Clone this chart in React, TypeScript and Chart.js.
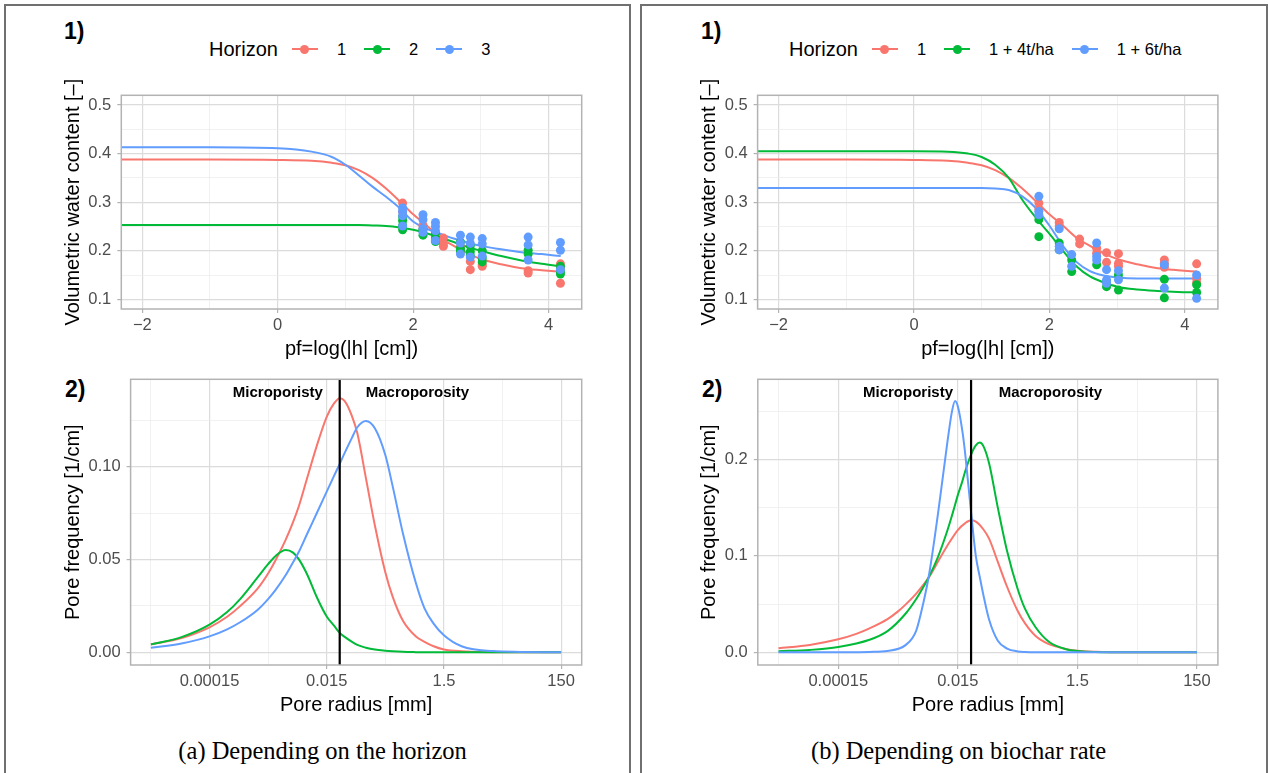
import React, { useEffect, useRef } from 'react';
import { Chart, registerables } from 'chart.js';

Chart.register(...registerables);

const SANS = "'Liberation Sans', Arial, Helvetica, sans-serif";
const SERIF = "'Liberation Serif', 'Times New Roman', serif";
const SERIES_COLORS = ['#F8766D', '#00BA38', '#619CFF'];

// ---------- legend / text ----------
const LEGEND_TITLE = 'Horizon';
const HORIZON_LABELS = ['1', '2', '3'];
const BIOCHAR_LABELS = ['1', '1 + 4t/ha', '1 + 6t/ha'];
const CAPTION_A = '(a) Depending on the horizon';
const CAPTION_B = '(b) Depending on biochar rate';
const RETENTION_X_TITLE = 'pf=log(|h| [cm])';
const RETENTION_Y_TITLE = 'Volumetric water content [–]';
const PSD_X_TITLE = 'Pore radius [mm]';
const PSD_Y_TITLE = 'Pore frequency [1/cm]';
const MICRO_LABEL = 'Microporisty';
const MACRO_LABEL = 'Macroporosity';

// ---------- axes ----------
const TOP_X_RANGE = [-2.31, 4.49];
const TOP_X_MAJOR = [-2, 0, 2, 4];
const TOP_X_MINOR = [-1, 1, 3];
const TOP_X_LABELS = ['\u22122', '0', '2', '4'];
const TOP_Y_RANGE = [0.08, 0.52];
const TOP_Y_MAJOR = [0.1, 0.2, 0.3, 0.4, 0.5];
const TOP_Y_MINOR = [0.15, 0.25, 0.35, 0.45];
const TOP_Y_LABELS = ['0.1', '0.2', '0.3', '0.4', '0.5'];

const PSD_X_RANGE = [Math.pow(10, -5.17), Math.pow(10, 2.527)];
const PSD_X_MAJOR = [0.00015, 0.015, 1.5, 150];
const PSD_X_MINOR = [0.000015, 0.0015, 0.15, 15];
const PSD_X_LABELS = ['0.00015', '0.015', '1.5', '150'];
const PSD_A_Y_RANGE = [-0.0068, 0.147];
const PSD_A_Y_MAJOR = [0, 0.05, 0.1];
const PSD_A_Y_MINOR = [0.025, 0.075, 0.125];
const PSD_A_Y_LABELS = ['0.00', '0.05', '0.10'];
const PSD_B_Y_RANGE = [-0.0131, 0.283];
const PSD_B_Y_MAJOR = [0, 0.1, 0.2];
const PSD_B_Y_MINOR = [0.05, 0.15, 0.25];
const PSD_B_Y_LABELS = ['0.0', '0.1', '0.2'];

const PORE_BOUNDARY = 0.025;
const MICRO_LABEL_X = 0.0022;
const MACRO_LABEL_X = 0.53;

// ---------- retention curves (pF vs theta) ----------
const CURVE_PF = [-2.31, -1, 0, 0.5, 0.8, 1.0, 1.2, 1.4, 1.6, 1.8, 2.0, 2.2, 2.4, 2.6, 2.8, 3.0, 3.3, 3.6, 3.9, 4.18];
const CURVE_H1 = [0.388, 0.388, 0.387, 0.385, 0.381, 0.376, 0.366, 0.350, 0.328, 0.302, 0.275, 0.252, 0.227, 0.210, 0.195, 0.183, 0.172, 0.164, 0.160, 0.157];
const CURVE_H2 = [0.253, 0.253, 0.253, 0.253, 0.253, 0.253, 0.253, 0.252, 0.251, 0.248, 0.243, 0.236, 0.227, 0.218, 0.208, 0.200, 0.189, 0.180, 0.173, 0.168];
const CURVE_H3 = [0.413, 0.413, 0.411, 0.404, 0.393, 0.377, 0.355, 0.332, 0.311, 0.288, 0.260, 0.245, 0.235, 0.225, 0.217, 0.210, 0.203, 0.197, 0.193, 0.189];
const CURVE_B4 = [0.405, 0.405, 0.405, 0.404, 0.400, 0.393, 0.377, 0.350, 0.305, 0.268, 0.235, 0.200, 0.168, 0.147, 0.135, 0.126, 0.120, 0.117, 0.115, 0.114];
const CURVE_B6 = [0.329, 0.329, 0.329, 0.329, 0.329, 0.329, 0.328, 0.325, 0.312, 0.288, 0.252, 0.210, 0.177, 0.158, 0.149, 0.145, 0.143, 0.143, 0.143, 0.143];

// ---------- measured points, panel (a) ----------
const A_H1_PF = [1.845, 1.845, 2.146, 2.146, 2.447, 2.447, 2.447, 2.699, 2.699, 2.845, 2.845, 3.021, 3.021, 3.699, 3.699, 4.176, 4.176, 4.176];
const A_H1_TH = [0.298, 0.280, 0.252, 0.245, 0.226, 0.214, 0.209, 0.208, 0.198, 0.178, 0.161, 0.171, 0.168, 0.159, 0.154, 0.173, 0.163, 0.133];
const A_H2_PF = [1.845, 1.845, 1.845, 1.845, 2.146, 2.146, 2.33, 2.33, 2.33, 2.699, 2.699, 2.699, 2.845, 2.845, 2.845, 3.021, 3.021, 3.021, 3.699, 3.699, 4.176, 4.176, 4.176];
const A_H2_TH = [0.270, 0.262, 0.252, 0.243, 0.244, 0.232, 0.236, 0.228, 0.219, 0.218, 0.205, 0.200, 0.210, 0.198, 0.190, 0.200, 0.185, 0.177, 0.201, 0.193, 0.168, 0.157, 0.152];
const A_H3_PF = [1.845, 1.845, 1.845, 1.845, 2.146, 2.146, 2.146, 2.146, 2.33, 2.33, 2.33, 2.33, 2.699, 2.699, 2.699, 2.845, 2.845, 2.845, 3.021, 3.021, 3.021, 3.699, 3.699, 3.699, 4.176, 4.176, 4.176];
const A_H3_TH = [0.288, 0.281, 0.272, 0.251, 0.274, 0.264, 0.246, 0.238, 0.258, 0.250, 0.241, 0.221, 0.232, 0.216, 0.193, 0.228, 0.215, 0.187, 0.225, 0.214, 0.189, 0.228, 0.212, 0.181, 0.217, 0.201, 0.161];

// ---------- measured points, panel (b) ----------
const B_H1_PF = [1.845, 1.845, 2.146, 2.146, 2.447, 2.447, 2.699, 2.699, 2.845, 2.845, 3.021, 3.021, 3.021, 3.699, 3.699, 3.699, 4.176, 4.176, 4.176];
const B_H1_TH = [0.298, 0.285, 0.258, 0.251, 0.224, 0.214, 0.205, 0.195, 0.196, 0.176, 0.194, 0.174, 0.168, 0.181, 0.174, 0.166, 0.173, 0.143, 0.134];
const B_B4_PF = [1.845, 1.845, 2.146, 2.146, 2.33, 2.33, 2.699, 2.845, 2.845, 3.021, 3.021, 3.699, 3.699, 4.176, 4.176];
const B_B4_TH = [0.264, 0.229, 0.216, 0.202, 0.181, 0.157, 0.171, 0.136, 0.126, 0.150, 0.119, 0.141, 0.103, 0.130, 0.114];
const B_B6_PF = [1.845, 1.845, 1.845, 2.146, 2.146, 2.146, 2.33, 2.33, 2.699, 2.699, 2.699, 2.845, 2.845, 2.845, 3.021, 3.021, 3.699, 3.699, 4.176, 4.176];
const B_B6_TH = [0.312, 0.281, 0.274, 0.245, 0.209, 0.202, 0.192, 0.168, 0.216, 0.188, 0.181, 0.161, 0.140, 0.133, 0.159, 0.140, 0.171, 0.123, 0.150, 0.102];

// ---------- pore size distributions (radius in mm) ----------
const PSD_RADIUS = [1.5e-5, 5e-5, 1.5e-4, 3e-4, 5e-4, 1e-3, 1.5e-3, 2e-3, 3e-3, 4e-3, 5e-3, 7e-3, 0.01, 0.015, 0.02, 0.025, 0.03, 0.04, 0.05, 0.07, 0.1, 0.15, 0.2, 0.3, 0.5, 0.7, 1, 1.5, 3, 10, 150];
const PSD_H1 = [0.0042, 0.0077, 0.0135, 0.0192, 0.0249, 0.0345, 0.0425, 0.0495, 0.0607, 0.0701, 0.0785, 0.0941, 0.1105, 0.1268, 0.1340, 0.1368, 0.1355, 0.1276, 0.1179, 0.0938, 0.0680, 0.0431, 0.0300, 0.0170, 0.0085, 0.0057, 0.0033, 0.0016, 0.0006, 0.00005, 0];
const PSD_H2 = [0.0043, 0.0082, 0.0149, 0.0217, 0.0287, 0.0405, 0.0475, 0.0518, 0.0551, 0.0537, 0.0502, 0.0418, 0.0302, 0.0193, 0.0144, 0.0105, 0.0085, 0.0058, 0.0040, 0.0025, 0.0015, 0.0009, 0.0006, 0.0003, 0.0001, 0, 0, 0, 0, 0, 0];
const PSD_H3 = [0.0025, 0.0048, 0.0086, 0.0124, 0.0162, 0.0230, 0.0287, 0.0335, 0.0416, 0.0485, 0.0540, 0.0640, 0.0745, 0.0865, 0.0950, 0.1015, 0.1070, 0.1152, 0.1212, 0.1246, 0.1205, 0.1062, 0.0895, 0.0640, 0.0372, 0.0237, 0.0155, 0.0092, 0.0033, 0.0007, 0];
const PSD_RADIUS_FINE = [1.5e-5, 5e-5, 1.5e-4, 5e-4, 1e-3, 2e-3, 3e-3, 4e-3, 5e-3, 7e-3, 0.01, 0.012, 0.0135, 0.015, 0.018, 0.02, 0.025, 0.03, 0.035, 0.04, 0.05, 0.07, 0.1, 0.15, 0.2, 0.3, 0.5, 1, 1.5, 3, 10, 150];
const PSD_B4 = [0.0012, 0.0025, 0.0055, 0.013, 0.022, 0.040, 0.055, 0.068, 0.079, 0.099, 0.126, 0.142, 0.153, 0.163, 0.178, 0.188, 0.205, 0.2145, 0.2175, 0.214, 0.196, 0.150, 0.105, 0.066, 0.045, 0.026, 0.011, 0.003, 0.0014, 0.0003, 0, 0];
const PSD_B6 = [0, 0, 0.0001, 0.0005, 0.0015, 0.0075, 0.022, 0.052, 0.082, 0.144, 0.217, 0.250, 0.2605, 0.255, 0.228, 0.205, 0.145, 0.100, 0.078, 0.060, 0.034, 0.012, 0.004, 0.001, 0.0003, 0, 0, 0, 0, 0, 0, 0];

// ---------- helpers ----------
const zip = (xs: number[], ys: number[]) => xs.map((x, i) => ({ x, y: ys[i] }));

const curveDs = (label: string, xs: number[], ys: number[], color: string, order: number) => ({
  type: 'scatter',
  label,
  data: zip(xs, ys),
  showLine: true,
  borderColor: color,
  backgroundColor: color,
  borderWidth: 2,
  pointRadius: 0,
  pointHoverRadius: 0,
  cubicInterpolationMode: 'monotone',
  fill: false,
  order,
});

const pointDs = (label: string, xs: number[], ys: number[], color: string, order: number) => ({
  type: 'scatter',
  label,
  data: zip(xs, ys),
  showLine: false,
  backgroundColor: color,
  borderColor: color,
  borderWidth: 0,
  pointRadius: 4.5,
  pointHoverRadius: 4.5,
  order,
});

interface Geom {
  left: number; top: number; width: number; height: number;
  plotL: number; plotT: number; plotR: number; plotB: number;
  yTitleX: number; xTitleY: number;
}

interface AxisSpec {
  type: string; range: number[]; major: number[]; minor: number[]; labels: string[]; title: string;
}

const gridFor = (major: number[]) => {
  const isMaj = (c: any) => !!(c && c.tick && major.indexOf(c.tick.value) >= 0);
  return {
    drawTicks: true,
    drawOnChartArea: true,
    tickLength: 4,
    color: (c: any) => (isMaj(c) ? '#DCDCDC' : '#EBEBEB'),
    lineWidth: (c: any) => (isMaj(c) ? 1.2 : 0.7),
    tickColor: (c: any) => (isMaj(c) ? '#B3B3B3' : 'rgba(0,0,0,0)'),
    tickWidth: 1.2,
  };
};

function axis(spec: AxisSpec, isX: boolean, g: Geom) {
  const all = [...spec.major, ...spec.minor].sort((a, b) => a - b);
  return {
    type: spec.type,
    position: isX ? 'bottom' : 'left',
    min: spec.range[0],
    max: spec.range[1],
    afterBuildTicks: (s: any) => {
      s.ticks = all.map((v) => ({ value: v }));
    },
    afterFit: (s: any) => {
      if (isX) {
        s.height = g.top + g.height - g.plotB;
        s.paddingLeft = 0;
        s.paddingRight = 0;
      } else {
        s.width = g.plotL - g.left;
        s.paddingTop = 0;
        s.paddingBottom = 0;
      }
    },
    ticks: {
      autoSkip: false,
      maxRotation: 0,
      minRotation: 0,
      padding: isX ? 3 : 6,
      color: '#4D4D4D',
      font: { family: SANS, size: 16.5 },
      callback: (v: any) => {
        const i = spec.major.indexOf(Number(v));
        return i >= 0 ? spec.labels[i] : '';
      },
    },
    grid: gridFor(spec.major),
    border: { display: false },
    title: {
      // the y title is drawn by the panelDeco plugin (no width squeezing)
      display: isX,
      text: spec.title,
      color: '#000000',
      font: { family: SANS, size: 20 },
      padding: { top: 0, bottom: g.top + g.height - g.xTitleY - 12 },
    },
  };
}

const panelDecoPlugin = {
  id: 'panelDeco',
  afterDatasetsDraw(chart: any, _args: any, opts: any) {
    const { ctx, chartArea: a } = chart;
    ctx.save();
    if (opts && opts.vline) {
      const xs = chart.scales.x;
      const px = xs.getPixelForValue(opts.vline);
      ctx.strokeStyle = '#000000';
      ctx.lineWidth = 2.2;
      ctx.beginPath();
      ctx.moveTo(px, a.top);
      ctx.lineTo(px, a.bottom);
      ctx.stroke();
      ctx.fillStyle = '#000000';
      ctx.font = `bold 15px ${SANS}`;
      ctx.textAlign = 'center';
      ctx.textBaseline = 'middle';
      ctx.fillText(MICRO_LABEL, xs.getPixelForValue(MICRO_LABEL_X), a.top + 13.5);
      ctx.fillText(MACRO_LABEL, xs.getPixelForValue(MACRO_LABEL_X), a.top + 13.5);
    }
    ctx.strokeStyle = '#B3B3B3';
    ctx.lineWidth = 1.5;
    ctx.strokeRect(a.left, a.top, a.right - a.left, a.bottom - a.top);
    if (opts && opts.yTitle) {
      ctx.translate(opts.yTitleX, (a.top + a.bottom) / 2);
      ctx.rotate(-Math.PI / 2);
      ctx.fillStyle = '#000000';
      ctx.font = `20px ${SANS}`;
      ctx.textAlign = 'center';
      ctx.textBaseline = 'middle';
      ctx.fillText(opts.yTitle, 0, 0);
    }
    ctx.restore();
  },
};

function buildConfig(g: Geom, datasets: any[], x: AxisSpec, y: AxisSpec, deco: any) {
  return {
    type: 'scatter',
    data: { datasets },
    options: {
      animation: false,
      responsive: false,
      maintainAspectRatio: false,
      events: [],
      layout: { padding: { left: 0, top: g.plotT - g.top, right: g.left + g.width - g.plotR, bottom: 0 } },
      plugins: {
        legend: { display: false },
        tooltip: { enabled: false },
        panelDeco: { ...deco, yTitle: y.title, yTitleX: g.yTitleX - g.left },
      },
      scales: { x: axis(x, true, g), y: axis(y, false, g) },
    },
    plugins: [panelDecoPlugin],
  };
}

function ChartCanvas({ g, make }: { g: Geom; make: () => any }) {
  const ref = useRef<HTMLCanvasElement>(null);
  useEffect(() => {
    const chart = new Chart(ref.current as HTMLCanvasElement, make());
    return () => chart.destroy();
  }, []);
  return (
    <canvas
      ref={ref}
      width={g.width}
      height={g.height}
      style={{ position: 'absolute', left: g.left, top: g.top, width: g.width, height: g.height }}
    />
  );
}

function Legend({ left, labels }: { left: number; labels: string[] }) {
  return (
    <div style={{ position: 'absolute', left, top: 37, height: 24, display: 'flex', alignItems: 'center', whiteSpace: 'nowrap', fontFamily: SANS, color: '#000' }}>
      <span style={{ fontSize: 20, marginRight: 14 }}>{LEGEND_TITLE}</span>
      {labels.map((lab, i) => (
        <React.Fragment key={lab}>
          <span style={{ position: 'relative', display: 'inline-block', width: 26, height: 24, marginRight: 19 }}>
            <span style={{ position: 'absolute', left: 0, top: 11, width: 26, height: 2, background: SERIES_COLORS[i] }} />
            <span style={{ position: 'absolute', left: 8.5, top: 7.5, width: 9, height: 9, borderRadius: '50%', background: SERIES_COLORS[i] }} />
          </span>
          <span style={{ fontSize: 16.5, marginRight: i < labels.length - 1 ? 18 : 0 }}>{lab}</span>
        </React.Fragment>
      ))}
    </div>
  );
}

const Tag = ({ left, top, text }: { left: number; top: number; text: string }) => (
  <div style={{ position: 'absolute', left, top, fontFamily: SANS, fontWeight: 'bold', fontSize: 23, lineHeight: '23px', color: '#000' }}>{text}</div>
);

const Caption = ({ center, text }: { center: number; text: string }) => (
  <div style={{ position: 'absolute', left: center - 300, top: 736, width: 600, textAlign: 'center', fontFamily: SERIF, fontSize: 24.5, lineHeight: '30px', color: '#000' }}>{text}</div>
);

const G_TL: Geom = { left: 50, top: 68, width: 545, height: 294, plotL: 121.3, plotT: 95.3, plotR: 581.7, plotB: 309, yTitleX: 73, xTitleY: 349 };
const G_TR: Geom = { left: 686, top: 68, width: 545, height: 294, plotL: 757.6, plotT: 95.3, plotR: 1217.9, plotB: 309, yTitleX: 709.5, xTitleY: 349 };
const G_BL: Geom = { left: 50, top: 368, width: 545, height: 357, plotL: 130.6, plotT: 379.3, plotR: 581.7, plotB: 665, yTitleX: 73, xTitleY: 705 };
const G_BR: Geom = { left: 686, top: 368, width: 545, height: 357, plotL: 757.8, plotT: 379.3, plotR: 1217.9, plotB: 665, yTitleX: 709.5, xTitleY: 705 };

const topX: AxisSpec = { type: 'linear', range: TOP_X_RANGE, major: TOP_X_MAJOR, minor: TOP_X_MINOR, labels: TOP_X_LABELS, title: RETENTION_X_TITLE };
const topY: AxisSpec = { type: 'linear', range: TOP_Y_RANGE, major: TOP_Y_MAJOR, minor: TOP_Y_MINOR, labels: TOP_Y_LABELS, title: RETENTION_Y_TITLE };
const psdX: AxisSpec = { type: 'logarithmic', range: PSD_X_RANGE, major: PSD_X_MAJOR, minor: PSD_X_MINOR, labels: PSD_X_LABELS, title: PSD_X_TITLE };
const psdAY: AxisSpec = { type: 'linear', range: PSD_A_Y_RANGE, major: PSD_A_Y_MAJOR, minor: PSD_A_Y_MINOR, labels: PSD_A_Y_LABELS, title: PSD_Y_TITLE };
const psdBY: AxisSpec = { type: 'linear', range: PSD_B_Y_RANGE, major: PSD_B_Y_MAJOR, minor: PSD_B_Y_MINOR, labels: PSD_B_Y_LABELS, title: PSD_Y_TITLE };

const [C1, C2, C3] = SERIES_COLORS;

const makeTL = () =>
  buildConfig(G_TL, [
    pointDs(HORIZON_LABELS[2], A_H3_PF, A_H3_TH, C3, 1),
    pointDs(HORIZON_LABELS[1], A_H2_PF, A_H2_TH, C2, 2),
    pointDs(HORIZON_LABELS[0], A_H1_PF, A_H1_TH, C1, 3),
    curveDs(HORIZON_LABELS[2], CURVE_PF, CURVE_H3, C3, 4),
    curveDs(HORIZON_LABELS[1], CURVE_PF, CURVE_H2, C2, 5),
    curveDs(HORIZON_LABELS[0], CURVE_PF, CURVE_H1, C1, 6),
  ], topX, topY, {});

const makeTR = () =>
  buildConfig(G_TR, [
    pointDs(BIOCHAR_LABELS[2], B_B6_PF, B_B6_TH, C3, 1),
    pointDs(BIOCHAR_LABELS[1], B_B4_PF, B_B4_TH, C2, 2),
    pointDs(BIOCHAR_LABELS[0], B_H1_PF, B_H1_TH, C1, 3),
    curveDs(BIOCHAR_LABELS[2], CURVE_PF, CURVE_B6, C3, 4),
    curveDs(BIOCHAR_LABELS[1], CURVE_PF, CURVE_B4, C2, 5),
    curveDs(BIOCHAR_LABELS[0], CURVE_PF, CURVE_H1, C1, 6),
  ], topX, topY, {});

const makeBL = () =>
  buildConfig(G_BL, [
    curveDs(HORIZON_LABELS[2], PSD_RADIUS, PSD_H3, C3, 1),
    curveDs(HORIZON_LABELS[1], PSD_RADIUS, PSD_H2, C2, 2),
    curveDs(HORIZON_LABELS[0], PSD_RADIUS, PSD_H1, C1, 3),
  ], psdX, psdAY, { vline: PORE_BOUNDARY });

const makeBR = () =>
  buildConfig(G_BR, [
    curveDs(BIOCHAR_LABELS[2], PSD_RADIUS_FINE, PSD_B6, C3, 1),
    curveDs(BIOCHAR_LABELS[1], PSD_RADIUS_FINE, PSD_B4, C2, 2),
    curveDs(BIOCHAR_LABELS[0], PSD_RADIUS, PSD_H1, C1, 3),
  ], psdX, psdBY, { vline: PORE_BOUNDARY });

export default function App() {
  return (
    <div style={{ position: 'absolute', left: 0, top: 0, width: 1268, height: 773, overflow: 'hidden', background: '#ffffff' }}>
      <div style={{ position: 'absolute', left: 4, top: 4, width: 627, height: 820, border: '2px solid #707070', boxSizing: 'border-box' }} />
      <div style={{ position: 'absolute', left: 640, top: 4, width: 628, height: 820, border: '2px solid #707070', boxSizing: 'border-box' }} />

      <Tag left={64} top={20} text="1)" />
      <Tag left={701} top={20} text="1)" />
      <Tag left={65} top={378} text="2)" />
      <Tag left={702} top={378} text="2)" />

      <Legend left={209} labels={HORIZON_LABELS} />
      <Legend left={789} labels={BIOCHAR_LABELS} />

      <ChartCanvas g={G_TL} make={makeTL} />
      <ChartCanvas g={G_TR} make={makeTR} />
      <ChartCanvas g={G_BL} make={makeBL} />
      <ChartCanvas g={G_BR} make={makeBR} />

      <Caption center={322.6} text={CAPTION_A} />
      <Caption center={958.6} text={CAPTION_B} />
    </div>
  );
}
